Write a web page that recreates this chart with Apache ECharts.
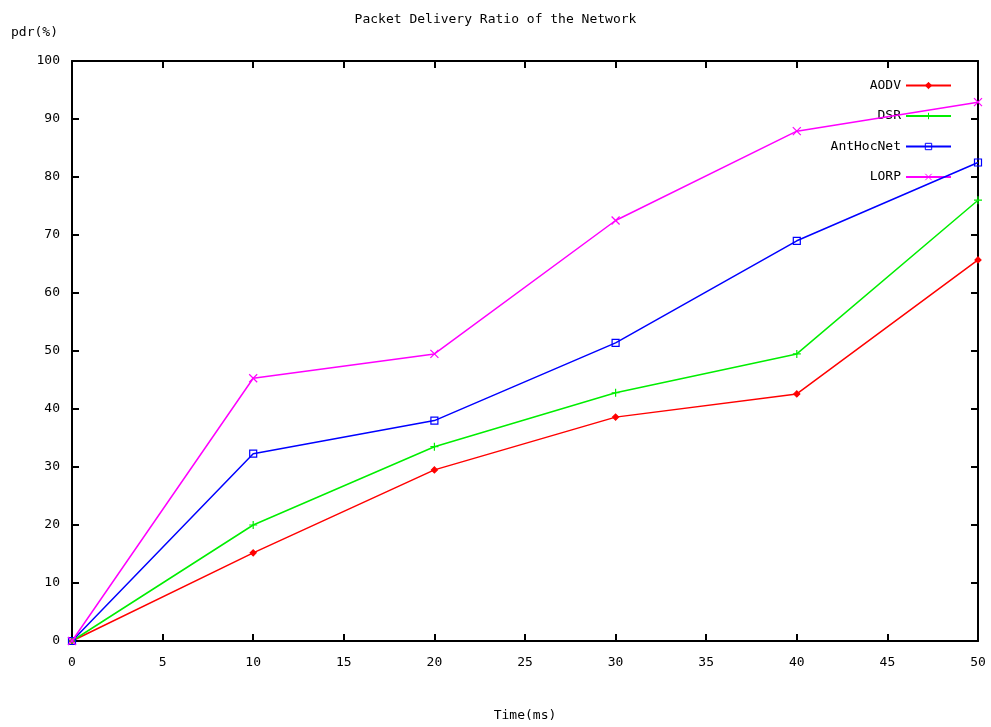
<!DOCTYPE html>
<html>
<head>
<meta charset="utf-8">
<script src="https://cdn.jsdelivr.net/npm/echarts@6/dist/echarts.min.js"></script>
<style>
  html, body { margin: 0; padding: 0; background: #fff; }
  #chart { width: 991px; height: 727px; }
</style>
</head>
<body>
<div id="chart"></div>
<script>
// Simulation times (ms) and packet delivery ratio (%) per routing protocol
const times = [0, 10, 20, 30, 40, 50];
const aodv = [0, 15.2, 29.5, 38.6, 42.6, 65.7];
const dsr = [0, 20.0, 33.5, 42.8, 49.5, 76.0];
const antHocNet = [0, 32.3, 38.0, 51.4, 69.0, 82.5];
const lorp = [0, 45.3, 49.5, 72.5, 87.9, 92.9];

const seriesNames = ['AODV', 'DSR', 'AntHocNet', 'LORP'];
const seriesValues = [aodv, dsr, antHocNet, lorp];
const seriesColors = ['#ff0000', '#00ee00', '#0000ff', '#ff00ff'];

const FONT = 'DejaVu Sans Mono';

// point glyphs: small diamond, plus, open square, cross
const plusPath = 'path://M5,0L5,10M0,5L10,5';
const crossPath = 'path://M0,0L10,10M10,0L0,10';
const symbolDefs = [
  { symbol: 'diamond', size: 6, fill: true },
  { symbol: plusPath, size: 8, fill: false },
  { symbol: 'rect', size: 7, fill: false },
  { symbol: crossPath, size: 8, fill: false }
];

const series = seriesNames.map((name, i) => ({
  name: name,
  type: 'line',
  data: times.map((t, k) => [t, seriesValues[i][k]]),
  symbol: symbolDefs[i].symbol,
  symbolSize: symbolDefs[i].size,
  showSymbol: true,
  lineStyle: { color: seriesColors[i], width: 1.5 },
  itemStyle: {
    color: symbolDefs[i].fill ? seriesColors[i] : 'rgba(0,0,0,0)',
    borderColor: seriesColors[i],
    borderWidth: 1.2
  },
  emphasis: { disabled: true },
  z: 2 + i
}));

// one legend block per entry so every sample line shares the same right edge
const legends = seriesNames.map((name, i) => ({
  data: [{ name: name, itemStyle: { borderWidth: 1 } }],
  right: 34,
  top: 74 + i * 30.5,
  align: 'right',
  itemWidth: 45,
  itemHeight: 8,
  itemGap: 12,
  selectedMode: false,
  textStyle: { fontFamily: FONT, fontSize: 13, color: '#000' }
}));

const axisBase = {
  axisLine: { show: true, onZero: false, lineStyle: { color: '#000', width: 2 } },
  axisTick: { show: true, inside: true, length: 7, lineStyle: { color: '#000', width: 2 } },
  splitLine: { show: false }
};

const option = {
  animation: false,
  backgroundColor: '#fff',
  title: {
    text: 'Packet Delivery Ratio of the Network',
    left: 'center',
    top: 8,
    textStyle: { fontFamily: FONT, fontSize: 13, fontWeight: 'normal', color: '#000' }
  },
  legend: legends,
  grid: { left: 72, right: 13, top: 61, bottom: 86, containLabel: false, outerBoundsMode: 'none' },
  xAxis: [
    Object.assign({}, axisBase, {
      type: 'value', min: 0, max: 50, interval: 5, position: 'bottom',
      name: 'Time(ms)', nameLocation: 'middle', nameGap: 68,
      nameTextStyle: { fontFamily: FONT, fontSize: 13, color: '#000' },
      axisLabel: { margin: 15, fontFamily: FONT, fontSize: 13, color: '#000' }
    }),
    Object.assign({}, axisBase, {
      type: 'value', min: 0, max: 50, interval: 5, position: 'top',
      axisLabel: { show: false }
    })
  ],
  yAxis: [
    Object.assign({}, axisBase, {
      type: 'value', min: 0, max: 100, interval: 10, position: 'left',
      name: 'pdr(%)', nameLocation: 'end', nameGap: 22,
      nameTextStyle: { fontFamily: FONT, fontSize: 13, color: '#000', align: 'right', padding: [0, 14, 0, 0] },
      axisLabel: { margin: 12, fontFamily: FONT, fontSize: 13, color: '#000' }
    }),
    Object.assign({}, axisBase, {
      type: 'value', min: 0, max: 100, interval: 10, position: 'right',
      axisLabel: { show: false }
    })
  ],
  series: series
};

const chart = echarts.init(document.getElementById('chart'), null, { renderer: 'canvas' });
chart.setOption(option);
</script>
</body>
</html>
